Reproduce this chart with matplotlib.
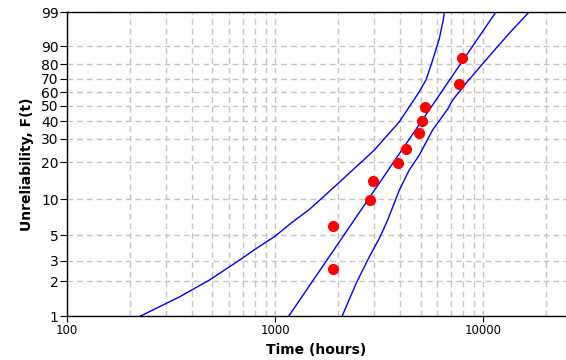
import matplotlib
matplotlib.use("Agg")
import matplotlib.pyplot as plt
import numpy as np
from matplotlib.ticker import FixedLocator, LogLocator, NullFormatter

# failure data (time in hours, median rank in %)
fail_times = [1892, 1892, 2862, 2944, 3881, 4258, 4894, 5080, 5251, 7614, 7871]
unrel = [2.56, 6.0, 9.9, 14.2, 19.6, 25.3, 32.9, 40.2, 49.3, 65.8, 83.6]

# fitted Weibull line, end points
fit_t = [1164, 11510]
fit_f = [1, 99]

# upper confidence bound (left curve)
upper_t = [226, 348, 485, 676, 813, 1002, 1217, 1464, 1966, 3000, 3955, 4335,
           4933, 5309, 5650, 6152, 6427, 6504]
upper_f = [1, 1.47, 2.06, 3.06, 3.85, 4.91, 6.5, 8.27, 13.1, 24.8, 39.6, 47.7,
           60.3, 69.0, 80.5, 93.2, 98.0, 99]

# lower confidence bound (right curve)
lower_t = [2101, 2451, 2839, 3171, 3475, 3955, 4416, 4933, 5716, 6743, 7131,
           8260, 10300, 13330, 16620]
lower_f = [1, 1.92, 3.27, 4.7, 6.72, 11.96, 17.4, 22.7, 34.8, 47.7, 54.2,
           66.5, 82.6, 95.0, 99]

y_ticks = [1, 2, 3, 5, 10, 20, 30, 40, 50, 60, 70, 80, 90, 99]


def weibull_fwd(f):
    p = np.clip(np.asarray(f, dtype=float) / 100.0, 1e-9, 1 - 1e-9)
    return np.log(-np.log(1 - p))


def weibull_inv(w):
    return 100.0 * (1 - np.exp(-np.exp(np.asarray(w, dtype=float))))


fig = plt.figure(figsize=(5.66, 3.6), dpi=100)
ax = fig.add_axes([67 / 566, 1 - 316 / 360, 499 / 566, 304 / 360])

ax.set_xscale("log")
ax.set_yscale("function", functions=(weibull_fwd, weibull_inv))

ax.plot(upper_t, upper_f, color="#0000ff", lw=1)
ax.plot(fit_t, fit_f, color="#0000ff", lw=1)
ax.plot(lower_t, lower_f, color="#0000ff", lw=1)
ax.plot(fail_times, unrel, "o", color="#ff0000", ms=7, mec="#ff0000", zorder=5)

ax.set_xlim(100, 25000)
ax.set_ylim(1, 99)

ax.yaxis.set_major_locator(FixedLocator(y_ticks))
ax.set_yticklabels([str(v) for v in y_ticks])
ax.yaxis.set_minor_locator(FixedLocator([]))
ax.xaxis.set_major_locator(FixedLocator([100, 1000, 10000]))
ax.set_xticklabels(["100", "1000", "10000"])
ax.xaxis.set_minor_locator(LogLocator(base=10, subs=np.arange(2, 10)))
ax.xaxis.set_minor_formatter(NullFormatter())

grid_kw = dict(color="#c4c4c4", linestyle=(0, (4, 3)), linewidth=1)
ax.grid(True, which="both", axis="x", **grid_kw)
ax.grid(True, which="major", axis="y", **grid_kw)
ax.set_axisbelow(True)

ax.tick_params(axis="y", which="major", labelsize=10, length=5, direction="out", pad=1)
ax.tick_params(axis="x", which="major", labelsize=8.5, length=4, direction="out", pad=2)
ax.tick_params(axis="x", which="minor", length=0)

for s in ["left", "bottom", "top"]:
    ax.spines[s].set_color("black")
    ax.spines[s].set_linewidth(1)
ax.spines["right"].set_visible(False)

ax.set_xlabel("Time (hours)", fontsize=10, fontweight="bold", labelpad=4)
ax.set_ylabel("Unreliability, F(t)", fontsize=10, fontweight="bold", labelpad=5)

fig.savefig("out.png", dpi=100)
